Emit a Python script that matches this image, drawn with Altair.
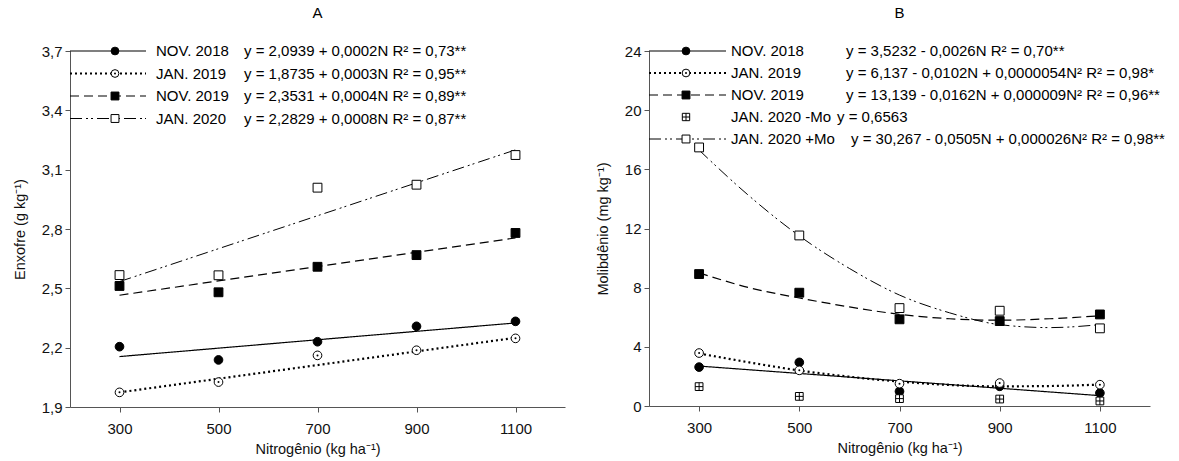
import altair as alt
import pandas as pd

# ---------------- data ----------------
N = [300, 500, 700, 900, 1100]
N_ends = [300, 1100]
N_curve = [300, 400, 500, 600, 700, 800, 900, 1000, 1100]

# Panel A: Enxofre
A_names = ["NOV. 2018", "JAN. 2019", "NOV. 2019", "JAN. 2020"]
A_eqs = [
    "y = 2,0939 + 0,0002N R² = 0,73**",
    "y = 1,8735 + 0,0003N R² = 0,95**",
    "y = 2,3531 + 0,0004N R² = 0,89**",
    "y = 2,2829 + 0,0008N R² = 0,87**",
]
A_nov2018 = [2.205, 2.138, 2.230, 2.308, 2.333]
A_jan2019 = [1.974, 2.026, 2.161, 2.187, 2.247]
A_nov2019 = [2.512, 2.480, 2.609, 2.668, 2.780]
A_jan2020 = [2.567, 2.566, 3.009, 3.024, 3.174]
A_fit_nov2018 = [2.155, 2.325]
A_fit_jan2019 = [1.974, 2.250]
A_fit_nov2019 = [2.465, 2.755]
A_fit_jan2020 = [2.534, 3.200]
A_yticks = [1.9, 2.2, 2.5, 2.8, 3.1, 3.4, 3.7]

# Panel B: Molibdenio
B_names = ["NOV. 2018", "JAN. 2019", "NOV. 2019", "JAN. 2020 -Mo", "JAN. 2020 +Mo"]
B_eqs = [
    "y = 3,5232 - 0,0026N R² = 0,70**",
    "y = 6,137 - 0,0102N + 0,0000054N² R² = 0,98*",
    "y = 13,139 - 0,0162N + 0,000009N² R² = 0,96**",
    "y = 0,6563",
    "y = 30,267 - 0,0505N + 0,000026N² R² = 0,98**",
]
B_nov2018 = [2.63, 2.95, 0.99, 1.33, 0.88]
B_jan2019 = [3.58, 2.41, 1.51, 1.55, 1.44]
B_nov2019 = [8.92, 7.66, 5.86, 5.74, 6.19]
B_jan2020_minus = [1.31, 0.65, 0.50, 0.47, 0.34]
B_jan2020_plus = [17.48, 11.53, 6.62, 6.44, 5.25]
B_fit_nov2018 = [2.70, 0.70]
B_fit_jan2019 = [3.55, 2.95, 2.40, 1.98, 1.65, 1.42, 1.33, 1.35, 1.45]
B_fit_nov2019 = [9.00, 8.00, 7.30, 6.70, 6.20, 5.90, 5.80, 5.90, 6.10]
B_fit_jan2020_plus = [17.30, 14.20, 11.50, 9.30, 7.50, 6.30, 5.50, 5.30, 5.50]
B_yticks = [0, 4, 8, 12, 16, 20, 24]

x_ticks = [300, 500, 700, 900, 1100]

# ---------------- styles ----------------
FONT = "Liberation Sans"
FS = 15
PLUS_SQUARE = "M-1,-1H1V1H-1Z M0,-1V1 M-1,0H1"

STYLE = {
    "nov2018": dict(dash=[1, 0], width=1.2, shape="circle", fill="black", size=75, dot=False),
    "jan2019": dict(dash=[2, 3], width=2.2, shape="circle", fill="white", size=75, dot=True),
    "nov2019": dict(dash=[9, 5], width=1.2, shape="square", fill="black", size=78, dot=False),
    "jan2020": dict(dash=[12, 4, 2, 3, 2, 4], width=1.0, shape="square", fill="white", size=78, dot=False),
    "minus": dict(dash=None, width=1.0, shape=PLUS_SQUARE, fill="white", size=60, dot=False),
}


def long_df(xs, series):
    rows = []
    for key, vals in series:
        for x, v in zip(xs, vals):
            rows.append({"N": x, "v": v, "s": key})
    return pd.DataFrame(rows)


def point_layers(df, key, xenc, yenc):
    st = STYLE[key]
    base = alt.Chart(df).transform_filter(alt.datum.s == key)
    layers = [base.mark_point(shape=st["shape"], filled=True, fill=st["fill"], stroke="black",
                              strokeWidth=1, size=st["size"], opacity=1).encode(x=xenc, y=yenc)]
    if st["dot"]:
        layers.append(base.mark_point(shape="circle", filled=True, fill="black", stroke=None,
                                      size=4, opacity=1).encode(x=xenc, y=yenc))
    return layers


def line_layer(df, key, xenc, yenc):
    st = STYLE[key]
    return alt.Chart(df).transform_filter(alt.datum.s == key).mark_line(
        color="black", strokeWidth=st["width"], strokeDash=st["dash"], interpolate="monotone"
    ).encode(x=xenc, y=yenc)


def legend_layers(key, row_y, line_x2, mark_x, label, label_x, eq, eq_x, has_line=True):
    st = STYLE[key]
    one = alt.Data(values=[{"k": 0}])
    out = []
    if has_line:
        out.append(alt.Chart(one).mark_rule(color="black", strokeWidth=st["width"], strokeDash=st["dash"])
                   .encode(x=alt.value(0), x2=alt.value(line_x2), y=alt.value(row_y)))
    out.append(alt.Chart(one).mark_point(shape=st["shape"], filled=True, fill=st["fill"], stroke="black",
                                         strokeWidth=1, size=st["size"] * (0.8 if key != "minus" else 0.9),
                                         opacity=1)
               .encode(x=alt.value(mark_x), y=alt.value(row_y)))
    if st["dot"]:
        out.append(alt.Chart(one).mark_point(shape="circle", filled=True, fill="black", stroke=None, size=4,
                                             opacity=1).encode(x=alt.value(mark_x), y=alt.value(row_y)))
    out.append(alt.Chart(one).mark_text(text=label, align="left", baseline="middle", font=FONT, fontSize=FS,
                                        color="black")
               .encode(x=alt.value(label_x), y=alt.value(row_y)))
    out.append(alt.Chart(one).mark_text(text=eq, align="left", baseline="middle", font=FONT, fontSize=FS,
                                        color="black")
               .encode(x=alt.value(eq_x), y=alt.value(row_y)))
    return out


def xenc_():
    return alt.X("N:Q", scale=alt.Scale(domain=[200, 1200], nice=False, zero=False),
                 axis=alt.Axis(values=x_ticks, format="d", title="Nitrogênio (kg ha⁻¹)"))


# ---------------- panel A ----------------
A_keys = ["nov2018", "jan2019", "nov2019", "jan2020"]
A_pts = long_df(N, zip(A_keys, [A_nov2018, A_jan2019, A_nov2019, A_jan2020]))
A_fit = long_df(N_ends, zip(A_keys, [A_fit_nov2018, A_fit_jan2019, A_fit_nov2019, A_fit_jan2020]))

xA = xenc_()
yA = alt.Y("v:Q", scale=alt.Scale(domain=[1.9, 3.7], nice=False, zero=False),
           axis=alt.Axis(values=A_yticks, labelExpr="replace(format(datum.value, '.1f'), '.', ',')",
                         title="Enxofre (g kg⁻¹)"))

A_layers = [line_layer(A_fit, k, xA, yA) for k in A_keys]
for k in A_keys:
    A_layers += point_layers(A_pts, k, xA, yA)
A_rows = 22.5
for i, k in enumerate(A_keys):
    A_layers += legend_layers(k, i * A_rows, 76, 45, A_names[i], 86, A_eqs[i], 174)

chartA = alt.layer(*A_layers).properties(
    width=495, height=356,
    title=alt.TitleParams("A", fontSize=15, fontWeight="normal", font=FONT, offset=23, anchor="middle"),
)

# ---------------- panel B ----------------
B_pts = long_df(N, zip(["nov2018", "jan2019", "nov2019", "minus", "jan2020"],
                       [B_nov2018, B_jan2019, B_nov2019, B_jan2020_minus, B_jan2020_plus]))
B_fit_lin = long_df(N_ends, [("nov2018", B_fit_nov2018)])
B_fit_q = long_df(N_curve, zip(["jan2019", "nov2019", "jan2020"],
                               [B_fit_jan2019, B_fit_nov2019, B_fit_jan2020_plus]))

xB = xenc_()
yB = alt.Y("v:Q", scale=alt.Scale(domain=[0, 24], nice=False),
           axis=alt.Axis(values=B_yticks, format="d", title="Molibdênio (mg kg⁻¹)"))

B_layers = [line_layer(B_fit_lin, "nov2018", xB, yB)]
B_layers += [line_layer(B_fit_q, k, xB, yB) for k in ["jan2019", "nov2019", "jan2020"]]
for k in ["nov2018", "jan2019", "nov2019", "minus", "jan2020"]:
    B_layers += point_layers(B_pts, k, xB, yB)
B_rows = 22
B_keys_leg = ["nov2018", "jan2019", "nov2019", "minus", "jan2020"]
B_eq_x = [197, 197, 197, 188, 202]
for i, k in enumerate(B_keys_leg):
    B_layers += legend_layers(k, i * B_rows, 77, 37, B_names[i], 82, B_eqs[i], B_eq_x[i],
                              has_line=(k != "minus"))

chartB = alt.layer(*B_layers).properties(
    width=501, height=355,
    title=alt.TitleParams("B", fontSize=15, fontWeight="normal", font=FONT, offset=23, anchor="middle"),
)

chart = alt.hconcat(chartA, chartB, spacing=30).properties(
    padding={"left": 12, "top": 6, "right": 5, "bottom": 2}
).configure(font=FONT).configure_view(stroke=None).configure_axis(
    grid=False,
    labelFont=FONT, labelFontSize=FS, labelColor="#111",
    titleFont=FONT, titleFontSize=14.5, titleFontWeight="normal", titleColor="#111",
    domainColor="#555", tickColor="#555", tickSize=5,
).configure_axisX(labelPadding=9, titlePadding=6).configure_axisY(labelPadding=3, titlePadding=14)

chart.save("out.html", embed_options={"renderer": "svg", "actions": False})
